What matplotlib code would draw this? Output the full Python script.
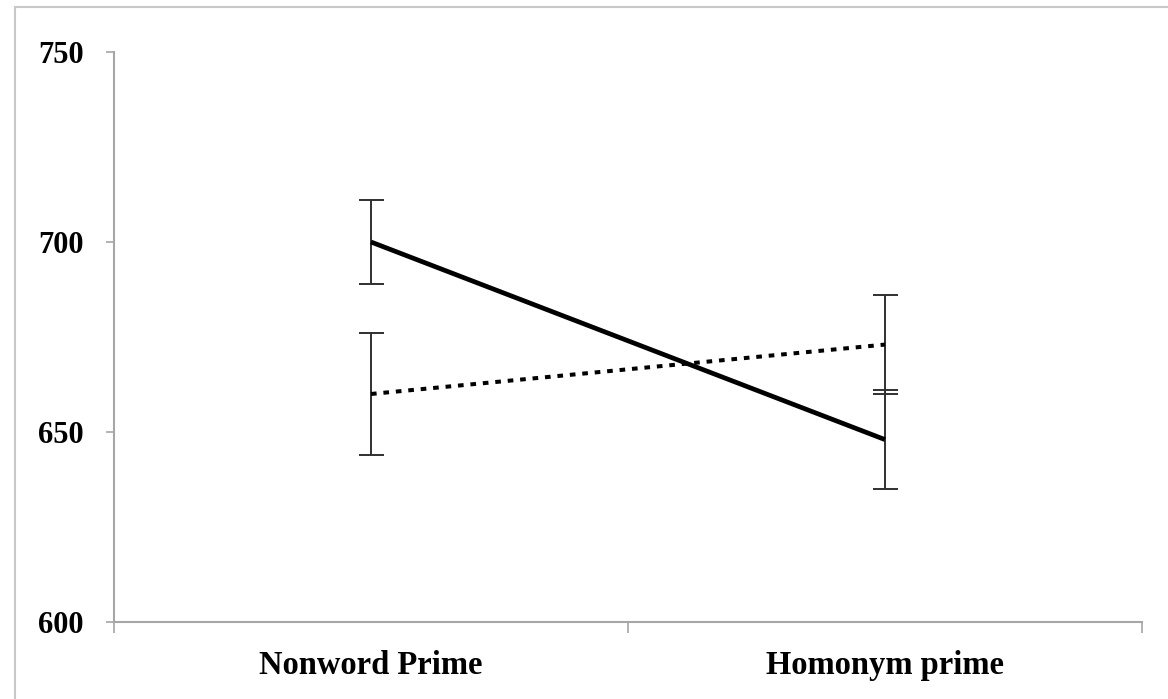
import matplotlib.pyplot as plt
from matplotlib.patches import Rectangle

plt.rcParams["font.family"] = ["Liberation Serif", "DejaVu Serif"]

categories = ["Nonword Prime", "Homonym prime"]
solid_means = [700, 648]
solid_err = [11, 13]
dotted_means = [660, 673]
dotted_err = [16, 13]
y_ticks = [600, 650, 700, 750]

fig = plt.figure(figsize=(11.68, 6.99), dpi=100)
ax = fig.add_axes([0.0976, 0.1102, 0.8801, 0.8154])

# thin frame around the whole figure
fig.patches.append(Rectangle((0.013, -0.01), 1.0, 1.0, transform=fig.transFigure,
                             fill=False, edgecolor="#c8c8c8", lw=1.5))

x = list(range(len(categories)))
grey = "#a6a6a6"

ax.plot(x, solid_means, color="black", lw=3.4, solid_capstyle="butt", zorder=3)
ax.plot(x, dotted_means, color="black", lw=2.9, linestyle=(0, (1.4, 1.7)), zorder=3)
ax.errorbar(x, solid_means, yerr=solid_err, fmt="none", ecolor="#303030",
            elinewidth=1.4, capsize=9, capthick=1.4, zorder=2)
ax.errorbar(x, dotted_means, yerr=dotted_err, fmt="none", ecolor="#303030",
            elinewidth=1.4, capsize=9, capthick=1.4, zorder=2)

ax.set_xlim(-0.5, 1.5)
ax.set_ylim(600, 750)
ax.set_yticks(y_ticks)
ax.set_yticklabels([str(t) for t in y_ticks], fontsize=22, fontweight="bold")

ax.set_xticks([-0.5, 0.5, 1.5])
ax.set_xticklabels([])
ax.set_xticks(x, minor=True)
ax.set_xticklabels(categories, minor=True, fontsize=23.5, fontweight="bold")
ax.tick_params(axis="x", which="minor", length=0, pad=20)
ax.tick_params(axis="x", which="major", length=8, color=grey, width=1.2)
ax.tick_params(axis="y", length=6, color=grey, width=1.2, pad=16)

for side in ["top", "right"]:
    ax.spines[side].set_visible(False)
for side in ["left", "bottom"]:
    ax.spines[side].set_color(grey)
    ax.spines[side].set_linewidth(1.5)

fig.savefig("out.png", dpi=100)
